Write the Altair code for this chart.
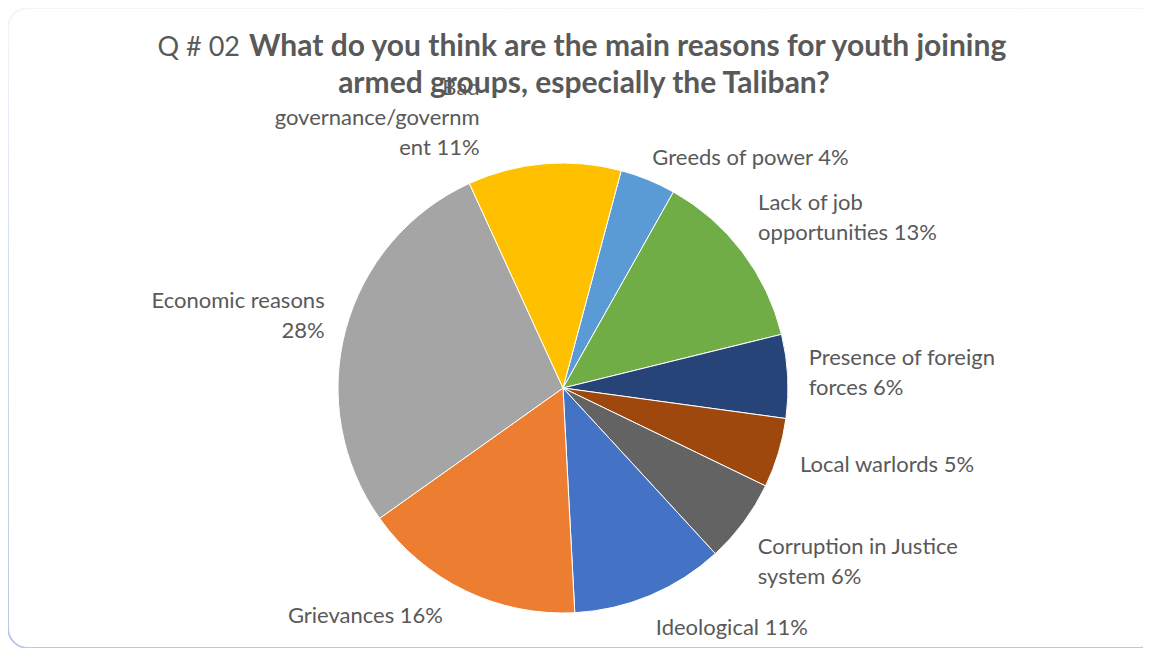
import altair as alt
import pandas as pd

# ---- data ----
categories = [
    "Greeds of power",
    "Lack of job opportunities",
    "Presence of foreign forces",
    "Local warlords",
    "Corruption in Justice system",
    "Ideological",
    "Grievances",
    "Economic reasons",
    "Bad governance/government",
]
values = [4, 13, 6, 5, 6, 11, 16, 28, 11]
label_texts = [
    "Greeds of power 4%",
    "Lack of job\nopportunities 13%",
    "Presence of foreign\nforces 6%",
    "Local warlords 5%",
    "Corruption in Justice\nsystem 6%",
    "Ideological  11%",
    "Grievances  16%",
    "Economic reasons\n28%",
    "Bad\ngovernance/governm\nent 11%",
]
colors = ["#5B9BD5", "#70AD47", "#264478", "#9E480E", "#636363",
          "#4472C4", "#ED7D31", "#A5A5A5", "#FFC000"]

title_prefix = "Q # 02"
title_line1 = "What do you think are the main reasons for youth joining"
title_line2 = "armed groups, especially the Taliban?"

# ---- styles ----
W, H = 1135, 640
CX, CY, R = 555, 380, 225
LABEL_R = 255
START = 15 * 3.141592653589793 / 180
TWO_PI = 2 * 3.141592653589793
FONT = "Lato"
TXT = "#595959"
LFS = 22
LH = 30
label_style = {  # align, dx, dy (first line anchored)
    "Greeds of power": ("left", -7, 6),
    "Lack of job opportunities": ("left", -8, -31),
    "Presence of foreign forces": ("left", -9, -17),
    "Local warlords": ("left", -7, 3),
    "Corruption in Justice system": ("left", -10, 7),
    "Ideological": ("left", -6, 5),
    "Grievances": ("right", -9, -2),
    "Economic reasons": ("right", 8, -21),
    "Bad governance/government": ("right", -62, -46),
}

df = pd.DataFrame({
    "cat": categories,
    "value": values,
    "label": label_texts,
    "idx": list(range(len(categories))),
})

theta_scale = alt.Scale(domain=[0, 100], range=[START, START + TWO_PI])

base = alt.Chart(df).transform_stack(
    stack="value", groupby=[], as_=["v0", "v1"],
    sort=[alt.SortField("idx", order="ascending")],
).transform_calculate(mid="(datum.v0 + datum.v1) / 2")

pie = base.mark_arc(outerRadius=R, stroke="white", strokeWidth=1).encode(
    theta=alt.Theta("v0:Q", scale=theta_scale, stack=None),
    theta2="v1:Q",
    color=alt.Color("cat:N", scale=alt.Scale(domain=categories, range=colors), legend=None),
    x=alt.value(CX),
    y=alt.value(CY),
)

label_layers = []
for cat in categories:
    align, dx, dy = label_style[cat]
    label_layers.append(
        base.transform_filter(alt.datum.cat == cat).mark_text(
            radius=LABEL_R, align=align, baseline="middle", dx=dx, dy=dy,
            font=FONT, fontSize=LFS, color=TXT, lineBreak="\n", lineHeight=LH,
        ).encode(
            theta=alt.Theta("mid:Q", scale=theta_scale, stack=None),
            text="label:N",
            x=alt.value(CX),
            y=alt.value(CY),
        )
    )

card_grad = alt.LinearGradient(
    gradient="linear",
    stops=[alt.GradientStop(color="#F3F5FB", offset=0),
           alt.GradientStop(color="#D3DEF2", offset=0.4),
           alt.GradientStop(color="#B7C9E8", offset=1)],
    x1=0, x2=0, y1=0, y2=1,
)
card = alt.Chart(pd.DataFrame({"k": [0]})).mark_rect(
    fill="white", stroke=card_grad, strokeWidth=2, cornerRadius=20,
).encode(x=alt.value(0), x2=alt.value(1150), y=alt.value(0), y2=alt.value(640))

t_pre = alt.Chart(pd.DataFrame({"t": [title_prefix]})).mark_text(
    align="right", baseline="alphabetic", font=FONT, fontSize=27, color=TXT,
).encode(text="t:N", x=alt.value(232), y=alt.value(48))
t1 = alt.Chart(pd.DataFrame({"t": [title_line1]})).mark_text(
    align="left", baseline="alphabetic", font=FONT, fontSize=30, fontWeight="bold", color=TXT,
).encode(text="t:N", x=alt.value(241), y=alt.value(48))
t2 = alt.Chart(pd.DataFrame({"t": [title_line2]})).mark_text(
    align="center", baseline="alphabetic", font=FONT, fontSize=30, fontWeight="bold", color=TXT,
).encode(text="t:N", x=alt.value(576), y=alt.value(85))

chart = alt.layer(card, pie, *label_layers, t_pre, t1, t2).properties(
    width=W, height=H, autosize=alt.AutoSizeParams(type="none"), padding=0,
).configure_view(stroke=None)

chart.save("out.html", embed_options={"renderer": "svg", "actions": False})
